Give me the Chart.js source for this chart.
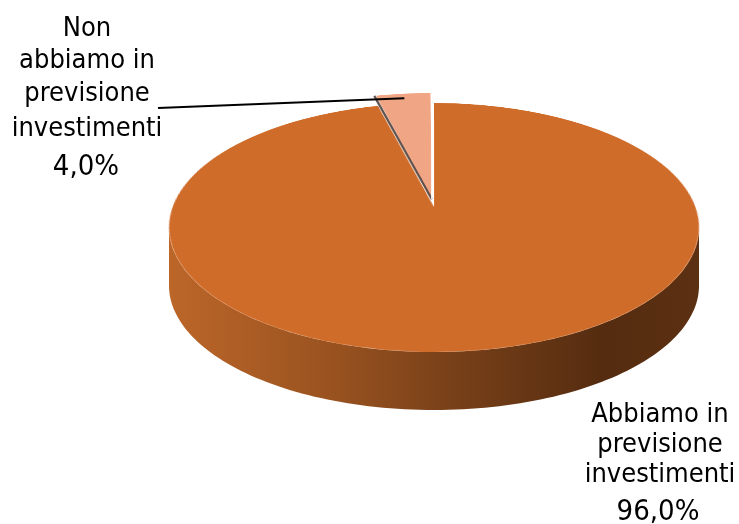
<!DOCTYPE html>
<html>
<head>
<meta charset="utf-8">
<script src="https://cdn.jsdelivr.net/npm/chart.js@4/dist/chart.umd.min.js"></script>
<style>
  html, body { margin: 0; padding: 0; background: #ffffff; }
  #wrap { width: 739px; height: 524px; position: relative; }
</style>
</head>
<body>
<div id="wrap"><canvas id="pie"></canvas></div>
<script>
// Survey answers and their shares (%)
const categories = ['Abbiamo in previsione investimenti', 'Non abbiamo in previsione investimenti'];
const values = [96.0, 4.0];
// Wrapped label lines shown next to each slice
const labelLines = [
  ['Abbiamo in', 'previsione', 'investimenti'],
  ['Non', 'abbiamo in', 'previsione', 'investimenti']
];
const sliceColors = ['#D06C2A', '#F0A685'];

const FONT = "'DejaVu Sans Condensed', 'DejaVu Sans', sans-serif";

// Perspective of the tilted disc: rows of the flat pie are remapped so the
// far half is compressed and the near half stretched.
const VIEW = {
  centreY: 207,   // screen y where the pie centre lands
  backH: 104,     // centre -> far rim, on screen
  frontH: 145,    // centre -> near rim, on screen
  halfW: 265,     // widest half-width of the top face
  depth: 58       // thickness of the disc
};
const B = (VIEW.backH - VIEW.frontH) / (VIEW.backH + VIEW.frontH);
const A = VIEW.frontH * (1 + B);
const WIDEST = 1 / Math.sqrt(1 - B * B);

function fmtPct(v) { return v.toFixed(1).replace('.', ',') + '%'; }

function makeView(cx, cy, R) {
  const K = VIEW.halfW / WIDEST / R;
  return {
    cx, cy, R, K,
    project(x, y) {
      const v = (y - cy) / R;
      const w = 1 + B * v;
      return [cx + (x - cx) * K / w, VIEW.centreY + A * v / w];
    },
    unproject(yp) {
      const t = yp - VIEW.centreY;
      return t / (A - t * B);
    }
  };
}

const pie3d = {
  id: 'pie3d',
  afterDatasetsDraw(chart) {
    const ctx = chart.ctx;
    const canvas = chart.canvas;
    const W = canvas.width, H = canvas.height;
    const arcs = chart.getDatasetMeta(0).data;
    const view = makeView(arcs[0].x, arcs[0].y, arcs[0].outerRadius);
    const { cx, cy, R } = view;

    // take the flat pie the library just drew, then repaint it in perspective
    const off = document.createElement('canvas');
    off.width = W; off.height = H;
    off.getContext('2d').drawImage(canvas, 0, 0);
    ctx.save();
    ctx.setTransform(1, 0, 0, 1, 0, 0);
    ctx.clearRect(0, 0, W, H);

    // front wall
    const th1 = Math.asin(-B), th2 = Math.PI - th1;
    const grad = ctx.createLinearGradient(cx - VIEW.halfW, 0, cx + VIEW.halfW, 0);
    grad.addColorStop(0, '#BC6629');
    grad.addColorStop(0.3, '#9A5320');
    grad.addColorStop(0.55, '#763F18');
    grad.addColorStop(0.82, '#552C10');
    grad.addColorStop(1, '#5C3012');
    const TWO = Math.PI * 2;
    arcs.forEach(arc => {
      for (let k = -1; k <= 1; k++) {
        const lo = Math.max(arc.startAngle, k * TWO + th1);
        const hi = Math.min(arc.endAngle, k * TWO + th2);
        if (hi <= lo) continue;
        const n = 120, top = [];
        for (let i = 0; i <= n; i++) {
          const a = lo + (hi - lo) * i / n;
          top.push(view.project(cx + R * Math.cos(a), cy + R * Math.sin(a)));
        }
        ctx.beginPath();
        top.forEach((p, i) => i ? ctx.lineTo(p[0], p[1]) : ctx.moveTo(p[0], p[1]));
        for (let i = top.length - 1; i >= 0; i--) ctx.lineTo(top[i][0], top[i][1] + VIEW.depth);
        ctx.closePath();
        ctx.fillStyle = grad;
        ctx.fill();
      }
    });

    // top face, row by row
    const yStart = Math.floor(view.project(cx, cy - 1.2 * R)[1]);
    const yEnd = Math.ceil(view.project(cx, cy + 1.05 * R)[1]);
    for (let yp = yStart; yp <= yEnd; yp++) {
      const v0 = view.unproject(yp), v1 = view.unproject(yp + 1);
      let s0 = cy + R * v0, s1 = cy + R * v1;
      s0 = Math.max(0, Math.min(H, s0));
      s1 = Math.max(0, Math.min(H, s1));
      if (s1 - s0 <= 0.01) continue;
      const sc = view.K / (1 + B * (v0 + v1) / 2);
      ctx.drawImage(off, 0, s0, W, s1 - s0, cx - cx * sc, yp, W * sc, 1);
    }

    // cut edges of the raised small slice (same shift/growth as the arc element)
    const small = arcs[1];
    const shift = (small.options.offset || 0) / 4;
    const fix = 1 - Math.sin(Math.min(Math.PI, small.circumference));
    const Rs = small.outerRadius + shift * fix;
    const mid = (small.startAngle + small.endAngle) / 2;
    const ox = small.x + shift * Math.cos(mid), oy = small.y + shift * Math.sin(mid);
    const edge = (ang, color, w) => {
      const a = view.project(ox, oy);
      const b = view.project(ox + Rs * Math.cos(ang), oy + Rs * Math.sin(ang));
      ctx.strokeStyle = color; ctx.lineWidth = w;
      ctx.beginPath(); ctx.moveTo(a[0], a[1]); ctx.lineTo(b[0], b[1]); ctx.stroke();
    };
    edge(small.startAngle, 'rgba(70,55,50,0.85)', 2.2);
    edge(small.endAngle, '#ffffff', 1.5);

    // leader line from the small slice to its label
    const tip = view.project(ox + 0.95 * Rs * Math.cos(mid), oy + 0.95 * Rs * Math.sin(mid));
    ctx.strokeStyle = '#000000'; ctx.lineWidth = 2;
    ctx.beginPath(); ctx.moveTo(158, 108); ctx.lineTo(tip[0], tip[1]); ctx.stroke();
    ctx.restore();
  },
  afterDraw(chart) {
    const ctx = chart.ctx;
    ctx.save();
    ctx.fillStyle = '#000000';
    ctx.textAlign = 'center';
    ctx.textBaseline = 'alphabetic';
    const blocks = [
      { x: 660, lines: [422, 452, 482], pctX: 658, pct: 520 },
      { x: 87, lines: [36, 68, 101, 136], pctX: 86, pct: 175 }
    ];
    blocks.forEach((b, i) => {
      ctx.font = '27px ' + FONT;
      labelLines[i].forEach((t, j) => ctx.fillText(t, b.x, b.lines[j]));
      ctx.font = '29px ' + FONT;
      ctx.fillText(fmtPct(values[i]), b.pctX, b.pct);
    });
    ctx.restore();
  }
};

new Chart(document.getElementById('pie'), {
  type: 'pie',
  data: {
    labels: categories,
    datasets: [{
      data: values,
      backgroundColor: sliceColors,
      borderWidth: 0,
      offset: [0, 60]
    }]
  },
  options: {
    responsive: true,
    maintainAspectRatio: false,
    animation: false,
    radius: 230,
    rotation: 0,
    layout: { padding: { left: 129 } },
    plugins: { legend: { display: false }, tooltip: { enabled: false } }
  },
  plugins: [pie3d]
});
</script>
</body>
</html>
